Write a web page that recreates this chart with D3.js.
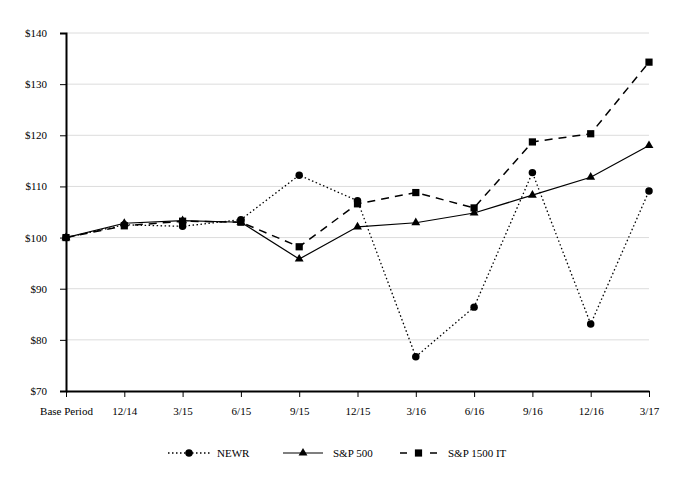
<!DOCTYPE html>
<html><head><meta charset="utf-8">
<script src="https://cdn.jsdelivr.net/npm/d3@7"></script>
</head><body style="margin:0;background:#fff">
<script>
const categories = ["Base Period","12/14","3/15","6/15","9/15","12/15","3/16","6/16","9/16","12/16","3/17"];
const newr = [100,102.5,102.2,103.5,112.2,107.2,76.7,86.4,112.7,83.1,109.1];
const sp500 = [100,102.8,103.3,103.0,95.8,102.1,102.9,104.8,108.3,111.8,118.0];
const sp1500it = [100,102.3,103.2,103.0,98.2,106.6,108.8,105.8,118.7,120.3,134.3];
const yTicks = [70,80,90,100,110,120,130,140];

const W=682,H=490;
const svg=d3.select("body").append("svg").attr("width",W).attr("height",H).style("display","block");
const x=d3.scalePoint().domain(categories).range([66,649]);
const y=d3.scaleLinear().domain([70,140]).range([391,33]);

svg.append("g").selectAll("line").data(yTicks.filter(v=>v>70)).join("line")
  .attr("x1",66).attr("x2",649).attr("y1",d=>y(d)).attr("y2",d=>y(d))
  .attr("stroke","#dcdcdc").attr("stroke-width",1);

const yAxis=svg.append("g").attr("transform","translate(66,0)")
  .call(d3.axisLeft(y).tickValues(yTicks).tickFormat(d=>"$"+d).tickSize(6).tickPadding(13));
const xAxis=svg.append("g").attr("transform","translate(0,391)")
  .call(d3.axisBottom(x).tickSize(6).tickSizeOuter(0).tickPadding(10));
[yAxis,xAxis].forEach(a=>{
  a.attr("font-family","Liberation Serif").attr("font-size",11);
  a.select(".domain").attr("stroke","#000").attr("stroke-width",2);
  a.selectAll(".tick line").attr("stroke","#000");
  a.selectAll(".tick text").attr("fill","#000");
});

const line=d3.line().x((d,i)=>x(categories[i])).y(d=>y(d));
const series=[
  {name:"NEWR",data:newr,dash:"1.5,2.5",sym:d3.symbolCircle,size:44,width:1.3},
  {name:"S&P 500",data:sp500,dash:null,sym:d3.symbolTriangle,size:34,width:1.2},
  {name:"S&P 1500 IT",data:sp1500it,dash:"8,6",sym:d3.symbolSquare,size:52,width:1.5}
];
series.forEach(s=>{
  svg.append("path").datum(s.data).attr("d",line).attr("fill","none")
    .attr("stroke","#000").attr("stroke-width",s.width).attr("stroke-dasharray",s.dash);
});
series.forEach(s=>{
  svg.append("g").selectAll("path").data(s.data).join("path")
    .attr("transform",(d,i)=>`translate(${x(categories[i])},${y(d)})`)
    .attr("d",d3.symbol().type(s.sym).size(s.size)).attr("fill","#000");
});

const lg=[{s:series[0],x1:168,x2:210,tx:217},{s:series[1],x1:283,x2:323,tx:333},{s:series[2],x1:400,x2:437,tx:448}];
const ly=453;
lg.forEach(l=>{
  const g=svg.append("g");
  g.append("line").attr("x1",l.x1).attr("x2",l.x2).attr("y1",ly).attr("y2",ly)
    .attr("stroke","#000").attr("stroke-width",l.s.width).attr("stroke-dasharray",l.s.name==="S&P 1500 IT"?"7,23":l.s.dash);
  g.append("path").attr("transform",`translate(${(l.x1+l.x2)/2},${ly})`)
    .attr("d",d3.symbol().type(l.s.sym).size(l.s.size)).attr("fill","#000");
  g.append("text").attr("x",l.tx).attr("y",ly+4).text(l.s.name);
});
svg.selectAll("text").style("font-family","'Liberation Serif'").style("font-size","11px").attr("fill","#000");
</script>
</body></html>
